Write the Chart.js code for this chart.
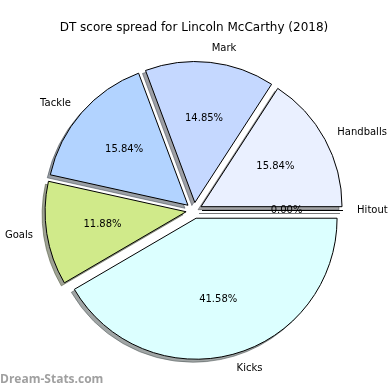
<!DOCTYPE html>
<html lang="en">
<head>
<meta charset="UTF-8">
<title>DT score spread for Lincoln McCarthy (2018)</title>
<script src="https://cdn.jsdelivr.net/npm/chart.js"></script>
<style>
    html, body { margin: 0; padding: 0; background: #fff; }
    #wrap { width: 390px; height: 390px; position: relative; }
</style>
</head>
<body>
<div id="wrap"><canvas id="pie" width="390" height="390"></canvas></div>
<script>
// slices listed clockwise from 3 o'clock (the original goes counter-clockwise from Hitout)
const categories = ['Kicks', 'Goals', 'Tackle', 'Mark', 'Handballs', 'Hitout'];
const shares = [41.58, 11.88, 15.84, 14.85, 15.84, 0];
const sliceColors = ['#dcffff', '#d0ea8a', '#b2d3ff', '#c5d8ff', '#eaf0ff', '#ffffff'];

const EXPLODE = 8;   // px each wedge is pushed out
const SHADOW = 3;    // px shadow shift (left / down)
const FONT = '"DejaVu Sans", Verdana, sans-serif';

// push every wedge out along its middle angle
const arcDraw = Chart.ArcElement.prototype.draw;
Chart.ArcElement.prototype.draw = function (ctx, area) {
    const mid = (this.startAngle + this.endAngle) / 2;
    ctx.save();
    ctx.translate(Math.cos(mid) * EXPLODE, Math.sin(mid) * EXPLODE);
    arcDraw.call(this, ctx, area);
    ctx.restore();
};

function shade(hex) {
    const n = parseInt(hex.slice(1), 16);
    const r = ((n >> 16) & 255) * 0.3, g = ((n >> 8) & 255) * 0.3, b = (n & 255) * 0.3;
    return `rgba(${r|0},${g|0},${b|0},0.5)`;
}

const piePlugin = {
    id: 'pieExtras',
    beforeDatasetsDraw(chart) {
        const ctx = chart.ctx;
        chart.getDatasetMeta(0).data.forEach((arc, i) => {
            const { x, y, startAngle, endAngle, outerRadius } = arc;
            const mid = (startAngle + endAngle) / 2;
            const ox = x + Math.cos(mid) * EXPLODE - SHADOW;
            const oy = y + Math.sin(mid) * EXPLODE + SHADOW;
            ctx.save();
            ctx.fillStyle = ctx.strokeStyle = shade(sliceColors[i]);
            ctx.lineWidth = 1;
            ctx.beginPath();
            ctx.moveTo(ox, oy);
            if (endAngle > startAngle) ctx.arc(ox, oy, outerRadius, startAngle, endAngle);
            else ctx.lineTo(ox + Math.cos(mid) * outerRadius, oy + Math.sin(mid) * outerRadius);
            ctx.closePath();
            ctx.fill();
            ctx.stroke();
            ctx.restore();
        });
    },
    afterDatasetsDraw(chart) {
        const ctx = chart.ctx;
        const total = shares.reduce((a, b) => a + b, 0);
        chart.getDatasetMeta(0).data.forEach((arc, i) => {
            const { x, y, startAngle, endAngle, outerRadius } = arc;
            const mid = (startAngle + endAngle) / 2;
            const cx = x + Math.cos(mid) * EXPLODE;
            const cy = y + Math.sin(mid) * EXPLODE;
            ctx.save();
            // zero wedge: just its edge line
            if (endAngle <= startAngle) {
                ctx.strokeStyle = '#000';
                ctx.lineWidth = 1;
                ctx.beginPath();
                ctx.moveTo(cx, cy);
                ctx.lineTo(cx + Math.cos(mid) * outerRadius, cy + Math.sin(mid) * outerRadius);
                ctx.stroke();
            }
            ctx.fillStyle = '#000';
            ctx.font = '10px ' + FONT;
            ctx.textBaseline = 'middle';
            ctx.textAlign = 'center';
            const pct = (shares[i] / total * 100).toFixed(2) + '%';
            ctx.fillText(pct, cx + Math.cos(mid) * outerRadius * 0.6, cy + Math.sin(mid) * outerRadius * 0.6);
            ctx.textAlign = Math.cos(mid) > 0 ? 'left' : 'right';
            ctx.fillText(categories[i], cx + Math.cos(mid) * outerRadius * 1.1, cy + Math.sin(mid) * outerRadius * 1.1);
            ctx.restore();
        });
    },
    afterDraw(chart) {
        const ctx = chart.ctx;
        ctx.save();
        ctx.font = 'bold 12px "Open Sans", sans-serif';
        ctx.fillStyle = '#a0a0a0';
        ctx.textBaseline = 'middle';
        ctx.textAlign = 'left';
        ctx.fillText('Dream-Stats.com', 0, 380);
        ctx.restore();
    }
};

new Chart(document.getElementById('pie'), {
    type: 'pie',
    data: {
        labels: categories,
        datasets: [{
            data: shares,
            backgroundColor: sliceColors,
            borderColor: '#000',
            borderWidth: 1
        }]
    },
    options: {
        responsive: false,
        animation: false,
        rotation: 90,
        radius: 141,
        layout: { padding: { left: 0, right: 2, top: 0, bottom: 4.4 } },
        plugins: {
            legend: { display: false },
            tooltip: { enabled: false },
            title: {
                display: true,
                text: 'DT score spread for Lincoln McCarthy (2018)',
                color: '#000',
                font: { family: FONT, size: 12, weight: 'normal' },
                padding: { top: 21, bottom: 0 }
            }
        }
    },
    plugins: [piePlugin]
});
</script>
</body>
</html>
